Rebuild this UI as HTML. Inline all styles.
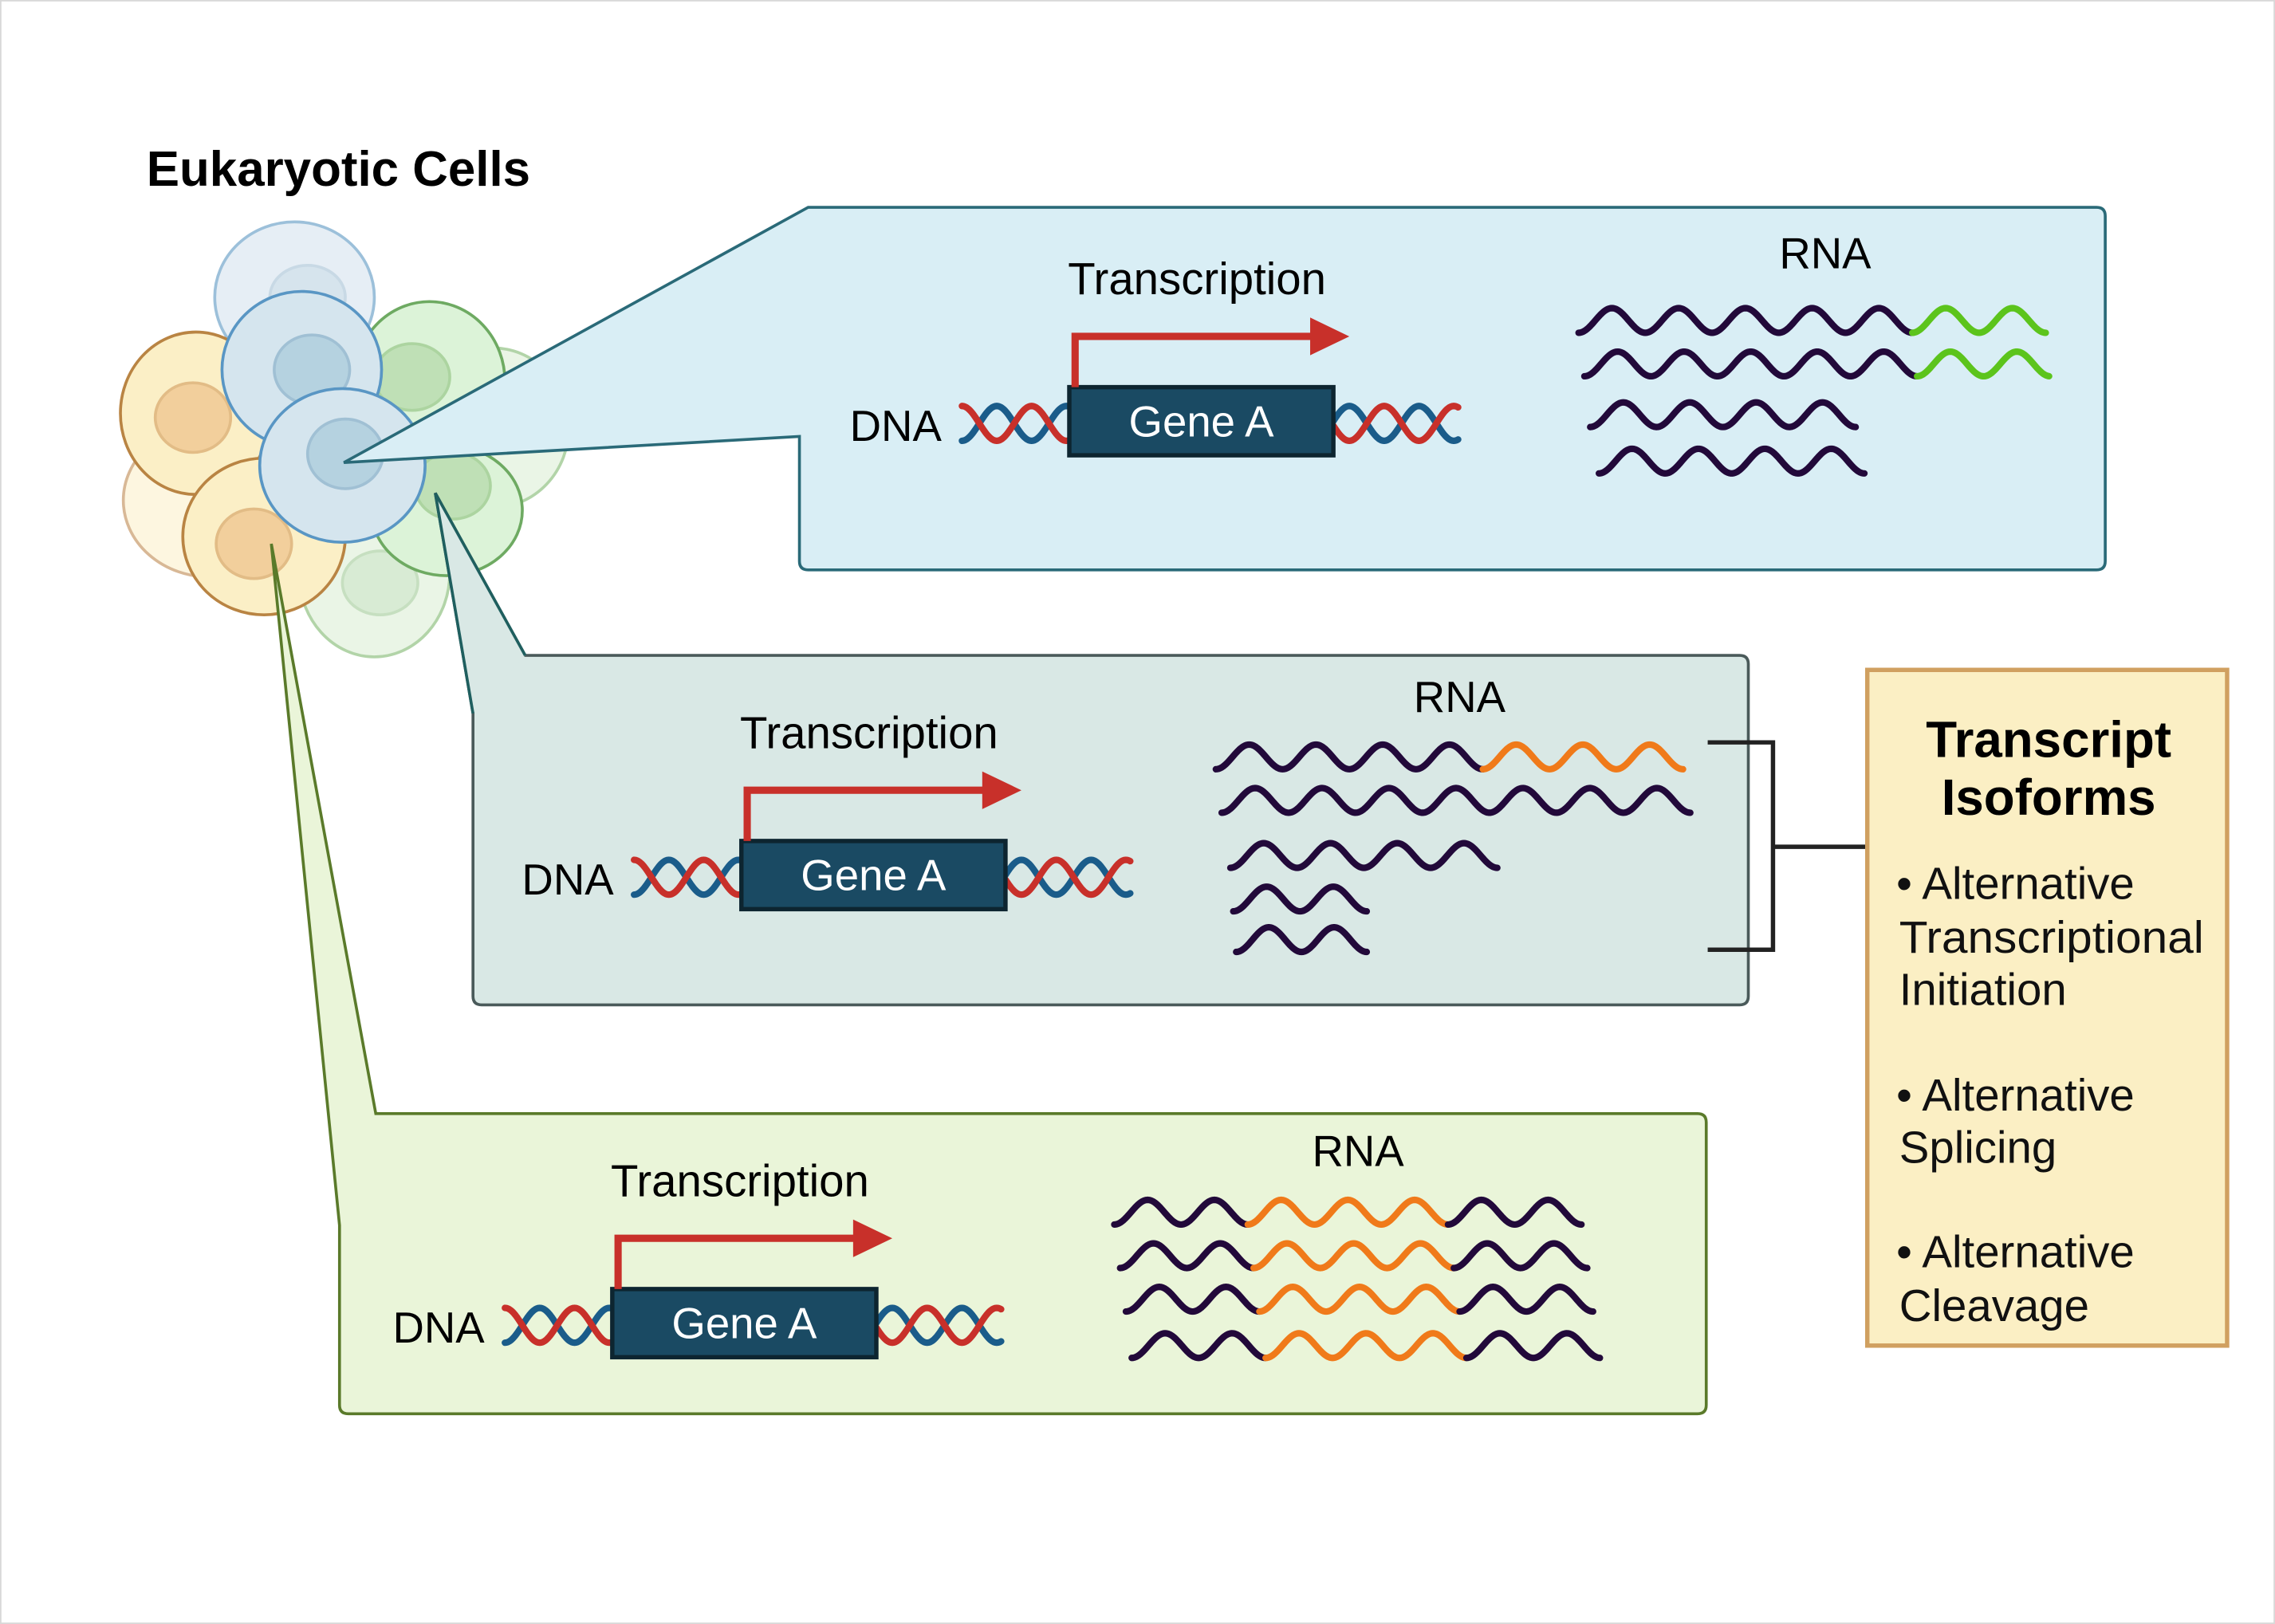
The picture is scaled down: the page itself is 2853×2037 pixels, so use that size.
<!DOCTYPE html>
<html><head><meta charset="utf-8"><style>
html,body{margin:0;padding:0;background:#fff;}
svg{display:block;}
text{font-family:"Liberation Sans",sans-serif;}
</style></head><body>
<svg id="s" width="2853" height="2037" viewBox="0 0 1568 1120" preserveAspectRatio="none" xmlns="http://www.w3.org/2000/svg">
<rect x="0.5" y="0.5" width="1567" height="1119" fill="#fff" stroke="#d8d8d8" stroke-width="1"/>
<g stroke-width="2">
<ellipse cx="145" cy="345" rx="60" ry="53" fill="#fdf6e0" stroke="#d8b896"/>
<ellipse cx="258" cy="395" rx="52" ry="58" fill="#eaf5e6" stroke="#b2d4a8"/>
<ellipse cx="340" cy="295" rx="52" ry="55" fill="#eaf5e6" stroke="#b2d4a8"/>
<ellipse cx="262" cy="402" rx="26" ry="22" fill="#d8ebd4" stroke="#c6dfc0"/>
<ellipse cx="203" cy="205" rx="55" ry="52" fill="#e6eef5" stroke="#9cc0da"/>
<ellipse cx="212" cy="205" rx="26" ry="22" fill="#d6e4ed" stroke="#c8d9e5"/>
<ellipse cx="135" cy="285" rx="52" ry="56" fill="#fbefc6" stroke="#b98443"/>
<ellipse cx="133" cy="288" rx="26" ry="24" fill="#f2cf9c" stroke="#e2bc86"/>
<ellipse cx="296" cy="263" rx="52" ry="55" fill="#dcf3d8" stroke="#6eaa62"/>
<ellipse cx="284" cy="260" rx="26" ry="23" fill="#bfe0b6" stroke="#acd4a0"/>
<ellipse cx="308" cy="352" rx="52" ry="45" fill="#dcf3d8" stroke="#6eaa62"/>
<ellipse cx="312" cy="335" rx="26" ry="23" fill="#bfe0b6" stroke="#acd4a0"/>
<ellipse cx="208" cy="255" rx="55" ry="54" fill="#d5e5ee" stroke="#5996c4"/>
<ellipse cx="215" cy="255" rx="26" ry="24" fill="#b5d2e0" stroke="#a0c0d4"/>
<ellipse cx="182" cy="370" rx="56" ry="54" fill="#fbefc6" stroke="#b98443"/>
<ellipse cx="175" cy="375" rx="26" ry="24" fill="#f2cf9c" stroke="#e2bc86"/>
<ellipse cx="236" cy="321" rx="57" ry="53" fill="#d5e5ee" stroke="#5996c4"/>
<ellipse cx="238" cy="313" rx="26" ry="24" fill="#b5d2e0" stroke="#a0c0d4"/>
</g>
<text x="101" y="128" font-size="34" font-weight="bold" fill="#000">Eukaryotic Cells</text>
<path d="M557,143 L1445,143 Q1451,143 1451,149 L1451,387 Q1451,393 1445,393 L557,393 Q551,393 551,387 L551,301 L237,319 Z" fill="#d9eef5" stroke="#2a6a78" stroke-width="2"/>
<path d="M362,452 L1199,452 Q1205,452 1205,458 L1205,687 Q1205,693 1199,693 L332,693 Q326,693 326,687 L326,492 L300,340 Z" fill="#d9e8e5" stroke="#4a5a5a" stroke-width="2"/>
<path d="M300,340 L362,452 L326,492 Z" fill="#d9e8e5"/>
<path d="M300,340 L362,452 M326,492 L300,340" stroke="#1f5f5f" stroke-width="2" fill="none"/>
<path d="M259,768 L1170,768 Q1176,768 1176,774 L1176,969 Q1176,975 1170,975 L240,975 Q234,975 234,969 L234,845 L187,375 Z" fill="#eaf5d9" stroke="#5a7a2a" stroke-width="2"/>
<path d="M1177,512 L1222,512 L1222,655 L1177,655 M1222,584 L1287,584" stroke="#222" stroke-width="3" fill="none"/>
<rect x="1287" y="462" width="248" height="466" fill="#fbefc4" stroke="#d0a060" stroke-width="3"/>
<text x="1412" y="522" font-size="35" font-weight="bold" text-anchor="middle">Transcript</text>
<text x="1412" y="562" font-size="35" font-weight="bold" text-anchor="middle">Isoforms</text>
<g font-size="31" fill="#111">
<text x="1307" y="620">• Alternative</text>
<text x="1309" y="657" textLength="210" lengthAdjust="spacingAndGlyphs">Transcriptional</text>
<text x="1309" y="693">Initiation</text>
<text x="1307" y="766">• Alternative</text>
<text x="1309" y="802">Splicing</text>
<text x="1307" y="874">• Alternative</text>
<text x="1309" y="911">Cleavage</text>
</g>
<g id="dyn"></g>
</svg>
<script>
var g=document.getElementById('dyn'),NS='http://www.w3.org/2000/svg';
function el(t,a,txt){var e=document.createElementNS(NS,t);for(var k in a)e.setAttribute(k,a[k]);if(txt)e.textContent=txt;g.appendChild(e);return e;}
function sine(x0,x1,c,A,P,ph,col,w){var d='';for(var x=x0;x<=x1+0.01;x+=1){var y=c+A*Math.cos(2*Math.PI*(x-x0)/P+ph);d+=(d?' L':'M')+x.toFixed(1)+','+y.toFixed(2);}
 el('path',{d:d,stroke:col,'stroke-width':w,fill:'none','stroke-linejoin':'round','stroke-linecap':'round'});}
function rna(x0,x1,y,segs){var n=segs.reduce(function(a,s){return a+s[0];},0);var P=(x1-x0)/n;var x=x0;
 segs.forEach(function(s){var xe=x+s[0]*P;sine(x,xe,y,8.5,P,0,s[1],4.5);x=xe;});}
var D='#22093a',G='#5cc41c',O='#f07a1a';
function gene(ox,oy){
 var c=oy+25;
 el('text',{x:ox-88,y:oy+37,'font-size':30,'text-anchor':'end'},'DNA');
 sine(ox-74,ox,c,12,48,0,'#1a5c8a',4.5);
 sine(ox-74,ox,c,12,48,Math.PI,'#c8302a',4.5);
 sine(ox+182,ox+268,c,12,48,2*Math.PI*(182-193)/48+Math.PI,'#1a5c8a',4.5);
 sine(ox+182,ox+268,c,12,48,2*Math.PI*(182-193)/48,'#c8302a',4.5);
 el('rect',{x:ox,y:oy,width:182,height:47,fill:'#1a4a63',stroke:'#0d2530','stroke-width':3});
 el('text',{x:ox+91,y:oy+34,'font-size':30,fill:'#fff','text-anchor':'middle'},'Gene A');
 el('path',{d:'M'+(ox+4)+','+oy+' L'+(ox+4)+','+(oy-35)+' L'+(ox+170)+','+(oy-35),stroke:'#c8302a','stroke-width':5,fill:'none'});
 el('path',{d:'M'+(ox+166)+','+(oy-48)+' L'+(ox+193)+','+(oy-35)+' L'+(ox+166)+','+(oy-22)+' Z',fill:'#c8302a'});
 el('text',{x:ox+88,y:oy-64,'font-size':31,'text-anchor':'middle'},'Transcription');
}
gene(737,267);gene(511,580);gene(422,889);
el('text',{x:1258,y:185,'font-size':30,'text-anchor':'middle'},'RNA');
el('text',{x:1006,y:491,'font-size':30,'text-anchor':'middle'},'RNA');
el('text',{x:936,y:804,'font-size':30,'text-anchor':'middle'},'RNA');
rna(1088,1410,221,[[5,D],[2,G]]);
rna(1092,1413,251,[[5,D],[2,G]]);
rna(1096,1279,286,[[4,D]]);
rna(1102,1285,318,[[4,D]]);
rna(838,1160,522,[[4,D],[3,O]]);
rna(842,1165,552,[[7,D]]);
rna(848,1032,590,[[4,D]]);
rna(850,942,620,[[2,D]]);
rna(852,942,648,[[2,D]]);
rna(768,1090,836,[[2,D],[3,O],[2,D]]);
rna(772,1094,866,[[2,D],[3,O],[2,D]]);
rna(776,1098,896,[[2,D],[3,O],[2,D]]);
rna(780,1103,928,[[2,D],[3,O],[2,D]]);
</script>
</body></html>
